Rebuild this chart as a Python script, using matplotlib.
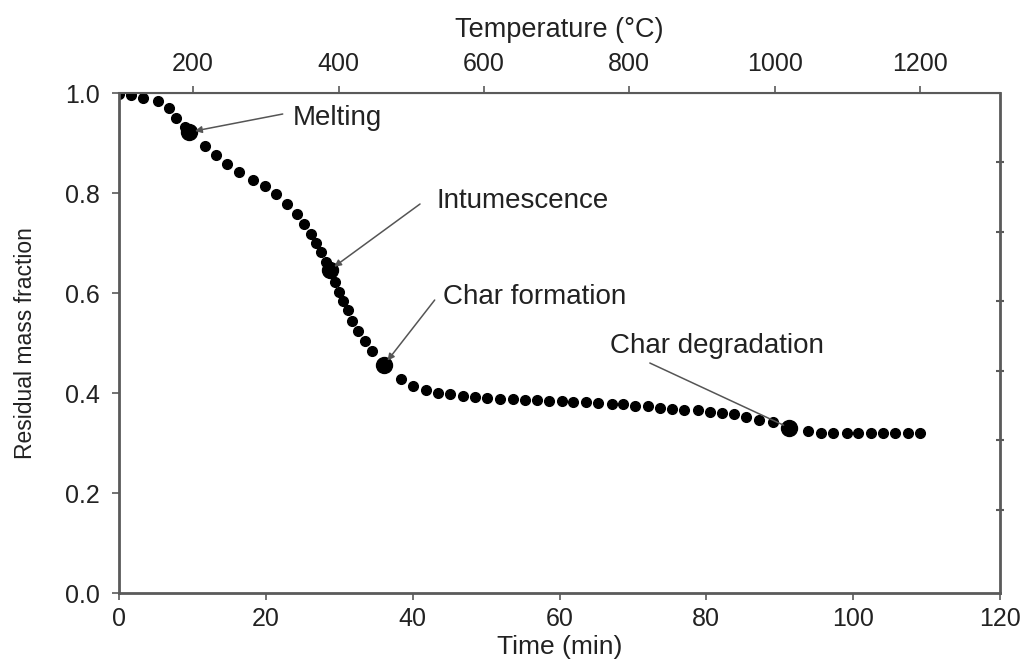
import matplotlib
matplotlib.use("Agg")
import matplotlib.pyplot as plt

plt.rcParams['font.family'] = ['Liberation Sans', 'DejaVu Sans']

# Thermogravimetric curve: time (min) vs residual mass fraction
time_min = [0, 1.7, 3.3, 5.3, 6.8, 7.8, 9.0, 11.7, 13.2, 14.7, 16.4, 18.2, 19.9,
            21.4, 22.9, 24.2, 25.2, 26.2, 26.8, 27.5, 28.2, 29.4, 30.0, 30.5,
            31.2, 31.8, 32.5, 33.5, 34.5, 38.4, 40.1, 41.8, 43.4, 45.1, 46.9,
            48.5, 50.1, 51.9, 53.6, 55.3, 56.9, 58.6, 60.3, 61.9, 63.6, 65.3,
            67.1, 68.7, 70.3, 72.1, 73.7, 75.3, 77.0, 78.8, 80.5, 82.1, 83.7,
            85.4, 87.2, 89.1, 93.9, 95.6, 97.3, 99.1, 100.7, 102.4, 104.1,
            105.7, 107.4, 109.1]
mass_frac = [0.999, 0.996, 0.991, 0.984, 0.971, 0.951, 0.933, 0.894, 0.877, 0.859,
             0.843, 0.827, 0.814, 0.798, 0.779, 0.759, 0.739, 0.719, 0.701, 0.683,
             0.663, 0.623, 0.603, 0.584, 0.566, 0.545, 0.525, 0.505, 0.485, 0.429,
             0.415, 0.406, 0.401, 0.398, 0.395, 0.393, 0.391, 0.389, 0.388, 0.386,
             0.386, 0.385, 0.384, 0.383, 0.382, 0.381, 0.379, 0.378, 0.375, 0.374,
             0.371, 0.369, 0.367, 0.366, 0.363, 0.361, 0.358, 0.353, 0.347, 0.343,
             0.324, 0.321, 0.321, 0.321, 0.321, 0.321, 0.321, 0.321, 0.321, 0.321]

# Characteristic stages
event_names = ["Melting", "Intumescence", "Char formation", "Char degradation"]
event_time = [9.6, 28.7, 36.1, 91.2]
event_mass = [0.922, 0.646, 0.456, 0.331]
label_pos = [(23.6, 0.95), (43.3, 0.784), (44.1, 0.592), (66.9, 0.494)]
leader_start = [(22.3, 0.958), (41.0, 0.778), (43.0, 0.586), (72.3, 0.46)]
leader_style = ["-|>", "-|>", "-|>", "-"]

# Temperature programme: linear heating
T0 = 98.0
rate = 10.1
temp_ticks = [200, 400, 600, 800, 1000, 1200]

spine_col = "#5a5a5a"
text_col = "#222222"
fig = plt.figure(figsize=(10.31, 6.62), dpi=100)
ax = fig.add_axes([0.1154, 0.1042, 0.8546, 0.7553])

ax.plot(time_min, mass_frac, linestyle="none", marker="o", ms=7,
        color="black", mec="black")
ax.plot(event_time, event_mass, linestyle="none", marker="o", ms=11.5,
        color="black", mec="black")

for i, name in enumerate(event_names):
    ax.annotate("", xy=(event_time[i], event_mass[i]), xytext=leader_start[i],
                arrowprops=dict(arrowstyle=leader_style[i], color="#555555",
                                lw=1.1, shrinkA=0, shrinkB=4,
                                mutation_scale=10))
    ax.text(label_pos[i][0], label_pos[i][1], name, fontsize=20,
            color=text_col, ha="left", va="center")

ax.set_xlim(0, 120)
ax.set_ylim(0, 1.0)
ax.set_xticks([0, 20, 40, 60, 80, 100, 120])
ax.set_yticks([0.0, 0.2, 0.4, 0.6, 0.8, 1.0])
ax.set_yticklabels(["0.0", "0.2", "0.4", "0.6", "0.8", "1.0"])
ax.tick_params(axis="both", labelsize=18, colors=spine_col,
               labelcolor=text_col, length=5, width=1.2, direction="out")
ax.tick_params(axis="x", pad=5)
ax.tick_params(axis="y", pad=9)
ax.set_xlabel("Time (min)", fontsize=19, color=text_col, labelpad=3)
ax.set_ylabel("Residual mass fraction", fontsize=16.5, color=text_col,
              labelpad=20)
for s in ax.spines.values():
    s.set_color(spine_col)
    s.set_linewidth(2.0)
ax.spines["top"].set_linewidth(1.5)

top = ax.secondary_xaxis("top", functions=(lambda t: T0 + rate * t,
                                           lambda T: (T - T0) / rate))
top.set_xticks(temp_ticks)
top.tick_params(labelsize=18, colors=spine_col, labelcolor=text_col,
                length=5, width=1.2, pad=7)
top.set_xlabel("Temperature (°C)", fontsize=19.5, color=text_col, labelpad=11)
top.spines["top"].set_color(spine_col)

# unlabelled reference ticks on the right-hand frame
right = ax.twinx()
right.set_ylim(720, 0)
right.set_yticks([100, 200, 300, 400, 500, 600])
right.set_yticklabels([])
right.tick_params(axis="y", direction="inout", length=6, width=1.5,
                  colors=spine_col)
for s in right.spines.values():
    s.set_visible(False)

fig.savefig("out.png", dpi=100)
